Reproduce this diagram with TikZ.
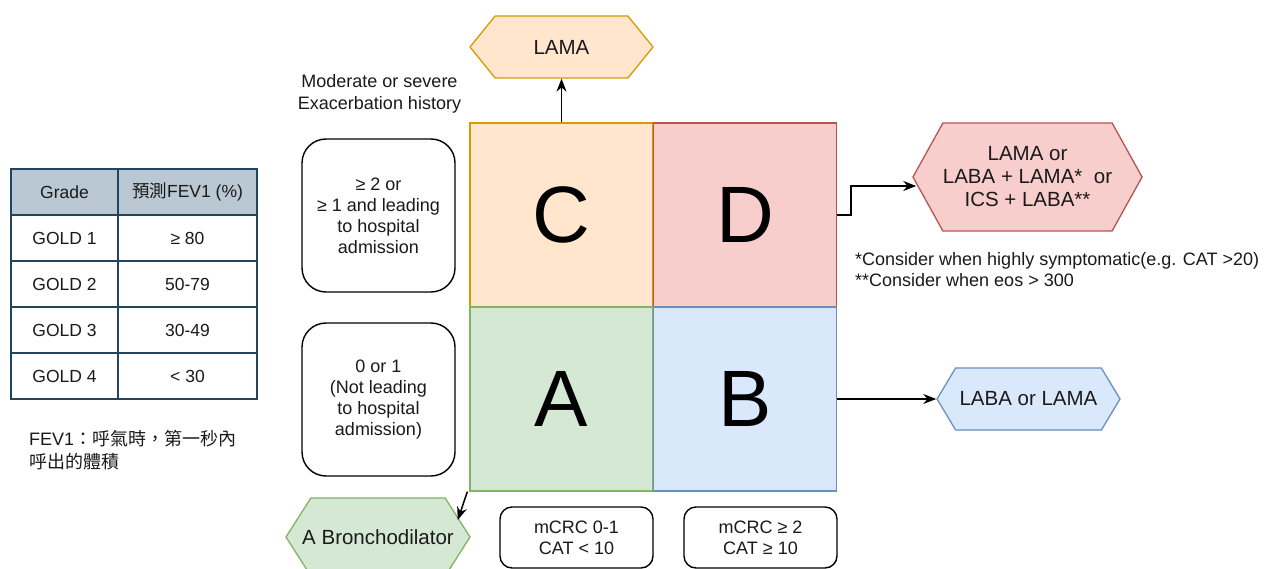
\documentclass[tikz,border=0pt]{standalone}
\usepackage{fontspec}
\setmainfont{Liberation Sans}
\newfontfamily\cjk{Noto Sans CJK TC}
\usetikzlibrary{shapes.symbols, arrows.meta}

\definecolor{orFill}{HTML}{FFE6CC}\definecolor{orLine}{HTML}{D79B00}
\definecolor{rdFill}{HTML}{F8CECC}\definecolor{rdLine}{HTML}{B85450}
\definecolor{grFill}{HTML}{D5E8D4}\definecolor{grLine}{HTML}{82B366}
\definecolor{blFill}{HTML}{DAE8FC}\definecolor{blLine}{HTML}{6C8EBF}
\definecolor{hdFill}{HTML}{BAC8D3}\definecolor{hdLine}{HTML}{23445D}
\definecolor{ink}{HTML}{1A1A1A}

\tikzset{
  quad/.style={draw, line width=1.3pt, minimum width=183pt, minimum height=184pt,
    inner sep=0pt, font=\fontsize{80}{80}\selectfont, text=black},
  hexa/.style={signal, signal to=west and east, draw, line width=1.3pt,
    inner sep=0pt, align=center, text=ink, font=\fontsize{20.5}{23}\selectfont},
  rbox/.style={draw, line width=1.4pt, rounded corners=24pt, inner sep=0pt,
    minimum width=153pt, minimum height=153pt, align=center, text=ink,
    font=\fontsize{18}{21}\selectfont},
  sbox/.style={draw, line width=1.4pt, rounded corners=12pt, inner sep=0pt,
    minimum width=153pt, minimum height=61pt, align=center, text=ink,
    font=\fontsize{18}{21}\selectfont},
  cell/.style={draw=hdLine, line width=1.3pt, inner sep=0pt, minimum height=46pt,
    text=ink, font=\fontsize{17.5}{20}\selectfont},
  gcell/.style={cell, minimum width=107pt},
  vcell/.style={cell, minimum width=139pt},
  plain/.style={inner sep=0pt, text=ink, font=\fontsize{18}{21.5}\selectfont},
  arr/.style={-{Stealth[length=13pt,width=10pt]}, line width=1.5pt, black},
}

\begin{document}
\begin{tikzpicture}[x=1pt, y=-1pt]
\clip (0,0) rectangle (1267,569);
\fill[white] (0,0) rectangle (1267,569);

% quadrant grid
\node[quad, fill=orFill, draw=orLine] (C) at (561.5,215) {C};
\node[quad, fill=rdFill, draw=rdLine] (D) at (745,215) {D};
\node[quad, fill=grFill, draw=grLine] (A) at (561.5,399) {A};
\node[quad, fill=blFill, draw=blLine] (B) at (745,399) {B};

% treatment hexagons
\node[hexa, fill=orFill, draw=orLine, minimum width=183pt, minimum height=62pt,
  signal pointer angle=102] (lama) at (561.5,47) {LAMA};
\node[hexa, fill=rdFill, draw=rdLine, minimum width=229pt, minimum height=108pt,
  signal pointer angle=122] (dhex) at (1027.5,177)
  {LAMA or\\LABA + LAMA*\ \ or\\ICS + LABA**};
\node[hexa, fill=blFill, draw=blLine, minimum width=183pt, minimum height=62pt,
  signal pointer angle=118] (bhex) at (1028.5,399) {LABA or LAMA};
% the label is wider than the flat part of this hexagon, so it is set in a zero-width box
\node[hexa, fill=grFill, draw=grLine, minimum width=184pt, minimum height=78pt,
  signal pointer angle=115] (ghex) at (378,537) {\makebox[0pt]{A Bronchodilator}};

% axis descriptions
\node[plain, align=center] (hist) at (379.5,94)
  {Moderate or severe\\Exacerbation history};
\node[rbox] (hi) at (378.5,215.5)
  {≥ 2 or\\≥ 1 and leading\\to hospital\\admission};
\node[rbox] (lo) at (378.5,399.5)
  {0 or 1\\(Not leading\\to hospital\\admission)};
\node[sbox] (m1) at (576.5,537.5) {mCRC 0-1\\CAT < 10};
\node[sbox] (m2) at (760.5,537.5) {mCRC ≥ 2\\CAT ≥ 10};

% footnotes
\node[plain, align=left, anchor=north west] (notes) at (855,252)
  {*Consider when highly symptomatic(e.g. CAT >20)\\**Consider when eos > 300};

% connectors
\draw[arr] (C.north) -- (lama.south);
\coordinate (dIn) at ([shift={(4,9)}]dhex.west);
\draw[arr] (D.east) -- ++(14,0) |- (dIn);
\draw[arr] (B.east) -- (bhex.west);
\coordinate (aOut) at ([xshift=-2]A.south west);
\coordinate (aIn) at ([shift={(-13,-17)}]ghex.east);
\draw[arr] (aOut) -- (aIn);

% GOLD grading table
\node[gcell, fill=hdFill] (g0) at (64.5,192) {Grade};
\node[vcell, fill=hdFill] (v0) at (187.5,192) {{\cjk 預測}FEV1 (\%)};
\node[gcell] (g1) at (64.5,238) {GOLD 1};
\node[vcell] (v1) at (187.5,238) {≥ 80};
\node[gcell] (g2) at (64.5,284) {GOLD 2};
\node[vcell] (v2) at (187.5,284) {50-79};
\node[gcell] (g3) at (64.5,330) {GOLD 3};
\node[vcell] (v3) at (187.5,330) {30-49};
\node[gcell] (g4) at (64.5,376) {GOLD 4};
\node[vcell] (v4) at (187.5,376) {< 30};

\node[plain, align=left, anchor=north west, font=\fontsize{18}{23}\selectfont] (fev) at (29,430)
  {FEV1{\cjk ：呼氣時，第一秒內}\\{\cjk 呼出的體積}};
\end{tikzpicture}
\end{document}
